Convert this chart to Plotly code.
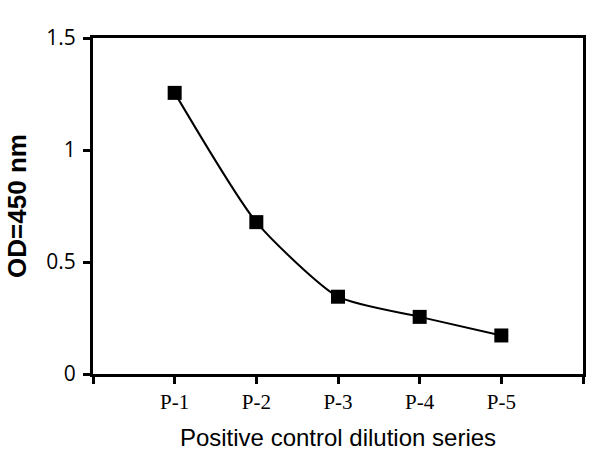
import plotly.graph_objects as go

# dilution series
samples = ["P-1", "P-2", "P-3", "P-4", "P-5"]
positions = [1, 2, 3, 4, 5]
od450 = [1.255, 0.678, 0.345, 0.255, 0.172]

fig = go.Figure()
fig.add_trace(go.Scatter(
    x=positions, y=od450,
    mode="lines+markers",
    line=dict(color="black", width=2, shape="spline", smoothing=0.6),
    marker=dict(symbol="square", size=14, color="black"),
    showlegend=False,
))

fig.update_xaxes(
    range=[0, 6],
    tickvals=[0] + positions + [6],
    ticktext=[""] + samples + [""],
    ticks="outside", ticklen=7, tickwidth=3, tickcolor="black",
    showline=True, linewidth=3, linecolor="black", mirror=True,
    showgrid=False, zeroline=False, automargin=False,
    tickfont=dict(family="Liberation Serif", size=21, color="black"),
    title=dict(text="Positive control dilution series",
               font=dict(family="Liberation Sans", size=24, color="black"),
               standoff=16),
)
fig.update_yaxes(
    range=[0, 1.5],
    tickvals=[0, 0.5, 1, 1.5],
    ticktext=["0", "0.5", "1", "1.5"],
    ticks="outside", ticklen=7, tickwidth=3, tickcolor="black",
    ticklabelstandoff=3,
    showline=True, linewidth=3, linecolor="black", mirror=True,
    showgrid=False, zeroline=False, automargin=False,
    tickfont=dict(family="Open Sans", size=21, color="black"),
    title=dict(text="<b>OD=450 nm</b>",
               font=dict(family="Liberation Sans", size=26, color="black"),
               standoff=13),
)

fig.update_layout(
    width=613, height=467,
    margin=dict(l=93, r=30, t=38, b=93),
    plot_bgcolor="white", paper_bgcolor="white",
)

# page body has a default 8px margin; drop it so the figure sits at 0,0
fig.write_html("out.html", config={"displayModeBar": False},
               post_script="document.body.style.margin='0';")
